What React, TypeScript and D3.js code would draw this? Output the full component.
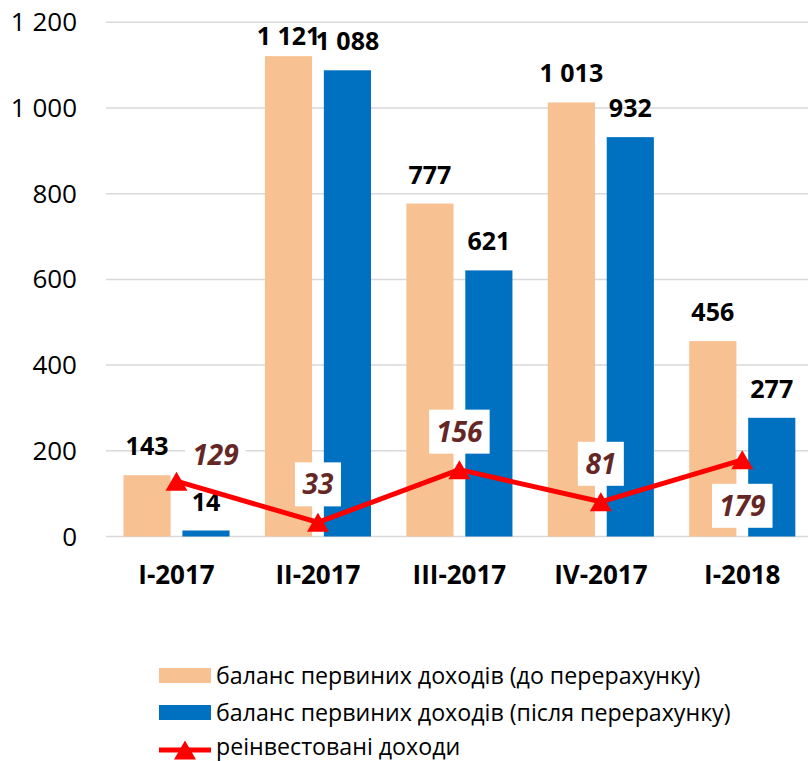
import React from "react";
import * as d3 from "d3";

const categories = ["I-2017", "II-2017", "III-2017", "IV-2017", "I-2018"];
const seriesNames = [
  "баланс первиних доходів (до перерахунку)",
  "баланс первиних доходів (після перерахунку)",
  "реінвестовані доходи",
];
const beforeValues = [143, 1121, 777, 1013, 456];
const afterValues = [14, 1088, 621, 932, 277];
const reinvestedValues = [129, 33, 156, 81, 179];
const lineLabelPlacement = ["right", "above", "above", "above", "below"];
const yTicks = [0, 200, 400, 600, 800, 1000, 1200];

const W = 808;
const H = 761;
const FONT = "'Open Sans', 'DejaVu Sans', sans-serif";
const ORANGE = "#F8C192";
const BLUE = "#0070C0";
const RED = "#FF0000";
const LABEL_RED = "#652726";

const fmt = (v: number) => {
  const s = String(Math.round(v));
  return s.replace(/\B(?=(\d{3})+(?!\d))/g, " ");
};

export default function App() {
  const x = d3.scaleBand<string>().domain(categories).range([105.8, 813]).padding(0);
  const bw = x.bandwidth();
  const x1 = d3
    .scaleBand<string>()
    .domain(["before", "after"])
    .range([bw * 0.125, bw * 0.875])
    .paddingInner(0.2);
  const y = d3.scaleLinear().domain([0, 1200]).range([536.5, 22.3]);
  const cx = (c: string) => (x(c) as number) + bw / 2;

  const line = d3
    .line<number>()
    .x((_, i) => cx(categories[i]))
    .y((d) => y(d));

  const tri = "M0,-9.5L11,9.5L-11,9.5Z";

  const barSeries = [
    { key: "before", values: beforeValues, color: ORANGE },
    { key: "after", values: afterValues, color: BLUE },
  ];

  return (
    <svg
      width={W}
      height={H}
      style={{ position: "absolute", left: 0, top: 0, background: "#fff" }}
      fontFamily={FONT}
    >
      <rect x={0} y={0} width={W} height={H} fill="#fff" />
      {yTicks.map((t) => (
        <line
          key={"g" + t}
          x1={106}
          x2={W}
          y1={y(t)}
          y2={y(t)}
          stroke="#D9D9D9"
          strokeWidth={1.5}
        />
      ))}
      {yTicks.map((t) => (
        <text
          key={"t" + t}
          x={77}
          y={y(t) + 9}
          textAnchor="end"
          fontSize={26}
          fill="#000"
        >
          {fmt(t)}
        </text>
      ))}
      {barSeries.map((s) =>
        s.values.map((v, i) => {
          const bx = (x(categories[i]) as number) + (x1(s.key) as number);
          return (
            <rect
              key={s.key + i}
              x={bx}
              y={y(v)}
              width={x1.bandwidth()}
              height={y(0) - y(v)}
              fill={s.color}
            />
          );
        })
      )}
      {barSeries.map((s) =>
        s.values.map((v, i) => {
          const bx = (x(categories[i]) as number) + (x1(s.key) as number) + x1.bandwidth() / 2;
          return (
            <text
              key={"l" + s.key + i}
              x={bx}
              y={Math.max(y(v) - 20, 45)}
              textAnchor="middle"
              fontSize={25}
              fontWeight="bold"
              fill="#000"
            >
              {fmt(v)}
            </text>
          );
        })
      )}
      <path
        d={line(reinvestedValues) || ""}
        fill="none"
        stroke={RED}
        strokeWidth={5}
        strokeLinejoin="round"
      />
      {reinvestedValues.map((v, i) => (
        <path key={"m" + i} d={tri} transform={`translate(${cx(categories[i])},${y(v)})`} fill={RED} />
      ))}
      {reinvestedValues.map((v, i) => {
        const px = cx(categories[i]);
        const py = y(v);
        const p = lineLabelPlacement[i];
        let lx = px;
        let ly = py;
        if (p === "right") {
          lx = px + 39;
          ly = py - 26;
        } else if (p === "above") {
          ly = py - 38;
        } else {
          ly = py + 46;
        }
        const txt = fmt(v);
        const boxW = txt.length * 14.5 + 17;
        return (
          <g key={"ll" + i}>
            <rect x={lx - boxW / 2} y={ly - 22} width={boxW} height={44} fill="#fff" />
            <text
              x={lx}
              y={ly + 10}
              textAnchor="middle"
              fontSize={28}
              fontWeight="bold"
              fontStyle="italic"
              fill={LABEL_RED}
            >
              {txt}
            </text>
          </g>
        );
      })}
      {categories.map((c) => (
        <text key={"c" + c} x={cx(c)} y={584} textAnchor="middle" fontSize={26} fontWeight="bold" fill="#000">
          {c}
        </text>
      ))}
      <g>
        <rect x={159} y={668} width={52} height={15} fill={ORANGE} />
        <text x={216} y={684} fontSize={23.2} fill="#000">
          {seriesNames[0]}
        </text>
        <rect x={159} y={705} width={52} height={15} fill={BLUE} />
        <text x={216} y={721} fontSize={23.2} fill="#000">
          {seriesNames[1]}
        </text>
        <line x1={159} x2={211} y1={750} y2={750} stroke={RED} strokeWidth={5} />
        <path d={tri} transform="translate(185,750)" fill={RED} />
        <text x={216} y={755} fontSize={23.2} fill="#000">
          {seriesNames[2]}
        </text>
      </g>
    </svg>
  );
}
